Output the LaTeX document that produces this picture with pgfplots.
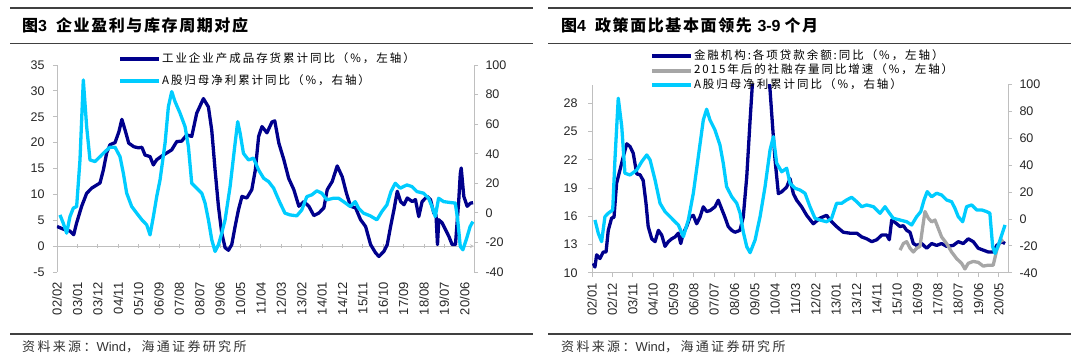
\documentclass[border=0pt]{standalone}
\usepackage{pgfplots}
\pgfplotsset{compat=1.18}
\usepackage{fontspec}
\setmainfont{Liberation Sans}
\newfontfamily\cjk{Noto Sans CJK SC}
\newfontfamily\cjkl{Noto Sans CJK SC}[LetterSpace=10]
\newfontfamily\cjkg{Noto Sans CJK SC}[LetterSpace=17]
\newfontfamily\cjks{Noto Sans CJK SC}[LetterSpace=18]
\definecolor{navy}{RGB}{0,0,140}
\definecolor{sky}{RGB}{0,204,255}
\definecolor{grayline}{RGB}{166,166,166}
\definecolor{axisgray}{RGB}{191,191,191}
\pgfplotsset{
 base/.style={scale only axis, anchor=south west, xmin=0, xmax=225,
   axis line style={axisgray, line width=0.8pt, -}, tick style={axisgray, line width=0.8pt},
   major tick length=4pt, tick align=outside,
   ticklabel style={font=\fontsize{12.5}{14}\selectfont, text=black!85},
   xticklabel style={font=\fontsize{13}{15}\selectfont},
   xticklabel shift=3pt,
   /pgf/number format/assume math mode=true,
   every axis plot/.append style={line width=3.3pt, line join=round},
   legend image code/.code={\draw[#1, line width=4pt] (0pt,0pt) -- (39pt,0pt);},
   legend cell align=left,
 },
 leg/.style={draw=none, fill=none, inner sep=0pt, anchor=north west,
   font=\cjkg\fontsize{11.5}{13}\selectfont,
   nodes={inner sep=1pt, text height=9pt, text depth=3pt}},
}
\begin{document}
\begin{tikzpicture}
\useasboundingbox (0,0) rectangle (1080pt,360pt);
% ---------- headers / footers ----------
\draw[line width=1.2pt, black!75] (10pt,352pt) -- (533pt,352pt);
\draw[line width=1.2pt, black!75] (10pt,316.5pt) -- (533pt,316.5pt);
\draw[line width=1.2pt, black!75] (10pt,26pt) -- (533pt,26pt);
\draw[line width=1.2pt, black!75] (548pt,352pt) -- (1071pt,352pt);
\draw[line width=1.2pt, black!75] (548pt,316.5pt) -- (1071pt,316.5pt);
\draw[line width=1.2pt, black!75] (548pt,26pt) -- (1071pt,26pt);
\node[anchor=west, inner sep=0pt] at (22pt,335pt) {\fontsize{16}{18}\selectfont{\cjk\bfseries 图}\textbf{3}\hspace{9pt}{\cjkl\bfseries 企业盈利与库存周期对应}};
\node[anchor=west, inner sep=0pt] at (561pt,335pt) {\fontsize{16}{18}\selectfont{\cjk\bfseries 图}\textbf{4}\hspace{9pt}{\cjkl\bfseries 政策面比基本面领先}\hspace{4pt}\textbf{3-9}\hspace{4pt}{\cjkl\bfseries 个月}};
\node[anchor=west, inner sep=0pt, text=black!80] at (22pt,13pt) {\fontsize{13}{15}\selectfont{\cjks 资料来源：}Wind{\cjks ，海通证券研究所}};
\node[anchor=west, inner sep=0pt, text=black!80] at (561pt,13pt) {\fontsize{13}{15}\selectfont{\cjks 资料来源：}Wind{\cjks ，海通证券研究所}};

% ================= LEFT PANEL =================
% x axis line at y = 0
\begin{axis}[base, at={(57pt,88pt)}, width=417pt, height=207pt, ymin=-5, ymax=35,
  axis x line=middle, axis y line=none, xtick={0,11,...,220}, xticklabels={}]
\addplot[draw=none] coordinates {(0,0)};
\end{axis}
\begin{axis}[base, at={(57pt,88pt)}, width=417pt, height=207pt, ymin=-5, ymax=35,
  ytick={-5,0,...,35}, axis y line*=left, axis x line*=bottom,
  yticklabel shift=5pt,
  x axis line style={draw=none}, xtick style={draw=none},
  xtick={0,11,...,220},
  xticklabels={02/02,03/01,03/12,04/11,05/10,06/09,07/08,08/07,09/06,10/05,11/04,12/03,13/02,14/01,14/12,15/11,16/10,17/09,18/08,19/07,20/06},
  xticklabel style={rotate=90, anchor=east}]
\addplot[navy] coordinates {
(0,3.8) (2,3.5) (4,3.2) (7,2.9) (9,2.2) (10.6,4.5) (13.3,7.7) (16,10.2) (18.7,11.2) (21.4,11.8) (23.2,12.2) (25,14.7) (26.8,18) (28.6,19.6) (31.3,20) (33.4,22.1) (35,24.5) (37,22.1) (38.7,19.9) (41.5,19.2) (44,19) (45.8,19.1) (47.5,17.6) (50.2,17.3) (52,15.7) (53.8,16.7) (56.5,17.4) (59.2,18) (61.9,18.6) (64.6,20.2) (67.3,20.3) (70,21.5) (72.7,21.2) (75.4,25.7) (79,28.5) (81.7,26.9) (83.5,22.4) (85.3,14.7) (87.1,7.7) (88.9,2.5) (90.7,-0.3) (92.5,-0.8) (94.3,0.3) (96.1,3.8) (97.9,7) (99.8,9.6) (102.4,9.3) (105.1,10.9) (107,14.7) (108.8,21.2) (110.6,23.1) (113.3,21.9) (116,24) (117.5,24.2) (119.7,19.9) (122.4,16.7) (125,13.1) (127.8,10.9) (130.5,7.7) (133.2,8.6) (135.9,7.7) (138.6,5.9) (141.3,6.4) (144,7.4) (145.8,10.9) (148.5,12.5) (151.2,15.5) (153.9,13.4) (156.2,10.2) (158.4,7.7) (161.1,7.4) (163.8,5.1) (166.5,3.8) (169.2,0.3) (171.9,-1.3) (173.7,-2) (176.4,-1) (178.2,0.3) (180,3.8) (181.8,7) (183.6,10.6) (185.4,8.6) (187.2,8) (189,9.3) (191.7,8.6) (193.4,9) (195.2,5.7) (197,8.6) (199.7,9.6) (201.5,9) (203.3,6.4) (204.5,6) (205.3,0.3) (206,5.1) (207.8,4.5) (209.6,3.2) (211.4,1.9) (213.2,0.3) (215,0.3) (216.8,9) (217.6,14) (218.1,15.1) (219.5,9.6) (221.3,7.7) (223.1,8.3) (224.5,8.4)
};
\end{axis}
\begin{axis}[base, at={(57pt,88pt)}, width=417pt, height=207pt, ymin=-40, ymax=100,
  ytick={-40,-20,...,100}, axis y line*=right, axis x line=none,
  yticklabel shift=4pt,
  legend style={leg, at={(0.146,1.063)}, row sep=8pt}]
\addlegendimage{navy}
\addlegendentry{工业企业产成品存货累计同比（\%，左轴）}
\addplot[sky] coordinates {
(1.6,-1.4) (3.4,-7) (5.2,-13.7) (7,-2.5) (8.8,3.2) (10.6,4.3) (12.4,35.8) (14.2,89.9) (16,58.3) (17.8,35.8) (20.5,34.7) (23.2,38) (25.9,41.4) (28.6,44.4) (31.3,44.4) (34,38) (35.8,26.8) (37.6,13.3) (40.3,4.3) (43,-0.2) (45.8,-4.7) (48.4,-8.1) (50.2,-14.9) (52,-2.5) (53.8,11) (55.6,22.3) (58.3,47.1) (60.1,71.8) (61.9,82) (63.7,75.2) (66.4,67.4) (69.1,58.3) (70.9,44.8) (72.7,20) (75.4,16.7) (78.1,13.3) (79.9,6.6) (81.7,-4.7) (83.5,-18.2) (85.3,-26.1) (87.1,-21.6) (88.9,-13.7) (90.7,-4.7) (93.4,17.8) (96.1,47.1) (97.5,61.7) (98.8,53.9) (100.6,40.3) (103.3,35.8) (106,37) (108.8,29) (111.5,23.4) (114.2,21.1) (116.9,16.7) (118.5,12) (120.4,6.6) (123,-0.2) (125.8,-1.4) (129.4,-2) (132.1,2) (134.8,11) (137.5,12.2) (140.2,14.9) (142.9,13.3) (145.6,8.8) (149.2,9.9) (151.9,9.9) (154.6,7.6) (158.2,4.3) (160.9,7.6) (162.7,3.2) (165.4,-0.2) (169,-2) (172.6,-4.7) (175.3,0.9) (178,5.4) (180.2,14.4) (182.5,20) (185.2,16.7) (188.8,18.9) (191.5,17.8) (194.2,14.4) (197.8,13.3) (200.5,9.9) (202.3,4.3) (204.1,-2.5) (205.9,9.9) (208.6,7.6) (212.2,7) (214.9,6.6) (216.2,-4.7) (217.6,-22.7) (219,-25) (221.1,-17) (222.9,-9.3) (224.4,-5.9)
};
\addlegendentry{A股归母净利累计同比（\%，右轴）}
\end{axis}

% ================= RIGHT PANEL =================
\begin{axis}[base, at={(592pt,87.3pt)}, width=416pt, height=188.2pt, ymin=10, ymax=30,
  ytick={10,13,...,28}, axis y line*=left, axis x line*=bottom,
  yticklabel shift=7pt,
  xtick={0,11,...,220},
  xticklabels={02/01,02/12,03/11,04/10,05/09,06/08,07/07,08/06,09/05,10/04,11/03,12/02,13/01,13/12,14/11,15/10,16/09,17/08,18/07,19/06,20/05},
  xticklabel style={rotate=90, anchor=east}]
\addplot[navy] coordinates {
(0.7,11) (1.6,10.6) (2.5,11.9) (4.3,11.5) (6.1,12.2) (7.6,12.2) (8.8,14.5) (10.6,15.8) (11.9,15.9) (13.3,19.5) (15.1,20.9) (16.9,22.3) (18.8,23.7) (20.6,23.4) (22.3,22.7) (24.2,20.5) (26,20.4) (27.7,19.8) (29.2,17.4) (30.4,14.9) (32.3,13.6) (34.1,13.3) (35.9,14.5) (37.7,14) (39.5,12.8) (41.3,13.3) (43.1,13.6) (44.9,13.8) (46.7,14.2) (48,13.1) (49.4,14.2) (51.2,14.9) (53,15.9) (54.8,16.1) (56.6,15.2) (58.4,15.9) (60.2,17) (62,16.5) (63.8,16.6) (66.5,17) (68.3,17.7) (70.1,16.8) (71.9,15.9) (73.7,14.9) (75.6,14.5) (77.3,14.3) (80,14.5) (81.8,15.9) (83.7,20.2) (85.5,26.2) (86.7,29.9) (88,31.5) (90,33) (92,34) (94,33) (95.5,31) (96.3,29.4) (97.7,25.5) (99,22) (100.8,18.4) (102.6,18.6) (105.3,19.1) (107.1,20) (108.9,18.4) (110.7,17.7) (113.4,17) (116.1,16.1) (119.7,15.2) (123.3,15.8) (126.9,16.1) (128.7,15.6) (132.3,14.9) (135.9,14.3) (139.5,14.2) (143.2,14.2) (145.9,13.8) (148.6,13.6) (151.3,13.3) (154,13.5) (156.7,14) (159.4,14) (160.8,13.5) (162.1,15.6) (164.8,15.2) (166.6,14.9) (168.4,15) (170.2,14.5) (172,14.3) (173.8,13.1) (175.6,12.9) (178.3,13.1) (181,12.6) (183.7,13.1) (186.4,12.9) (189.1,13.1) (191.8,12.8) (195.4,12.9) (198.1,13.3) (200.8,13.1) (203.5,13.6) (206.2,13.3) (208.9,12.6) (211.6,12.4) (214.3,12.2) (217,12.2) (218.9,12.9) (221.6,13.3) (223.4,13.1)
};
\addplot[grayline] coordinates {
(166.6,12.4) (168.4,13.1) (170.2,13.3) (172,12.6) (173.8,12.2) (175.6,12.6) (177.4,12.8) (178.9,14.9) (180.1,16.5) (181.9,15.8) (183.7,15.4) (185.5,15.6) (187.3,14.7) (189.1,13.8) (191.8,13.1) (194.5,12.2) (197.2,11.5) (199.9,11) (201.7,10.4) (203.5,11) (206.2,11.2) (208.9,11.1) (211.6,10.7) (214.3,10.8) (217,10.8) (218.9,12.4) (220.7,13.3) (222.5,13.5)
};
\end{axis}
\begin{axis}[base, at={(592pt,87.3pt)}, width=416pt, height=188.2pt, ymin=-40, ymax=100,
  ytick={-40,-20,...,100}, axis y line*=right, axis x line=none,
  yticklabel shift=4pt,
  legend style={leg, at={(0.139,1.189)}, row sep=0.5pt}]
\addlegendimage{navy}
\addlegendentry{金融机构:各项贷款余额:同比（\%，左轴）}
\addlegendimage{grayline}
\addlegendentry{2015年后的社融存量同比增速（\%，左轴）}
\addplot[sky] coordinates {
(1.6,-0.8) (3.4,-10.7) (5.2,-16.9) (7,1.7) (8.8,4.2) (11.2,6.7) (12.4,43.9) (14.2,89.8) (16.1,68.6) (17.8,34) (20.6,32.7) (24.2,36.4) (26.9,42.6) (29.6,47.6) (31.4,43.9) (34.1,29) (36.8,11.6) (39.5,5.4) (42.2,1.7) (44.9,-2.1) (46.7,-4.5) (49.4,-13.2) (52.1,-0.8) (54.8,19.1) (57.5,46.3) (60.2,73.6) (62,81.6) (63.8,73.6) (66.5,66.2) (69.2,55) (71,41.4) (72.8,24) (75.6,16.5) (78.3,11.6) (80.1,4.2) (81.8,-9.5) (83.7,-20.7) (85.5,-25.1) (88.2,-15.7) (90.9,1.7) (93.6,24) (96.3,51.3) (98.1,61.2) (99.9,41.4) (102.6,35.1) (105.3,37.7) (107.1,26.5) (109.8,22.8) (112.5,21.5) (115.2,19.1) (117.9,9.1) (120.6,0.5) (123.3,-0.8) (126.9,-2.1) (129.6,0.5) (132.3,11.6) (135,11.6) (137.7,14.1) (140.4,16.1) (143.2,12.8) (145.9,9.1) (148.6,10.4) (152.2,9.1) (155.8,4.2) (158.5,9.1) (160.3,5.4) (162.9,0.5) (166.6,-0.8) (170.2,-2.1) (172.9,-4.5) (175.6,1.7) (177.8,5.4) (179.6,14.1) (181.3,20.3) (183.7,16.5) (186.4,19.1) (189.1,17.8) (191.8,14.1) (194.5,12.8) (196.3,7.9) (198.1,1.7) (200.5,-2.1) (202.6,9.1) (205.4,10.4) (208,6.7) (210.8,6.7) (213.5,5.4) (215.2,4.2) (216.7,-20.7) (218,-25.6) (219.8,-19.4) (221.6,-11.9) (223.4,-4.5)
};
\addlegendentry{A股归母净利累计同比（\%，右轴）}
\end{axis}
\end{tikzpicture}
\end{document}
